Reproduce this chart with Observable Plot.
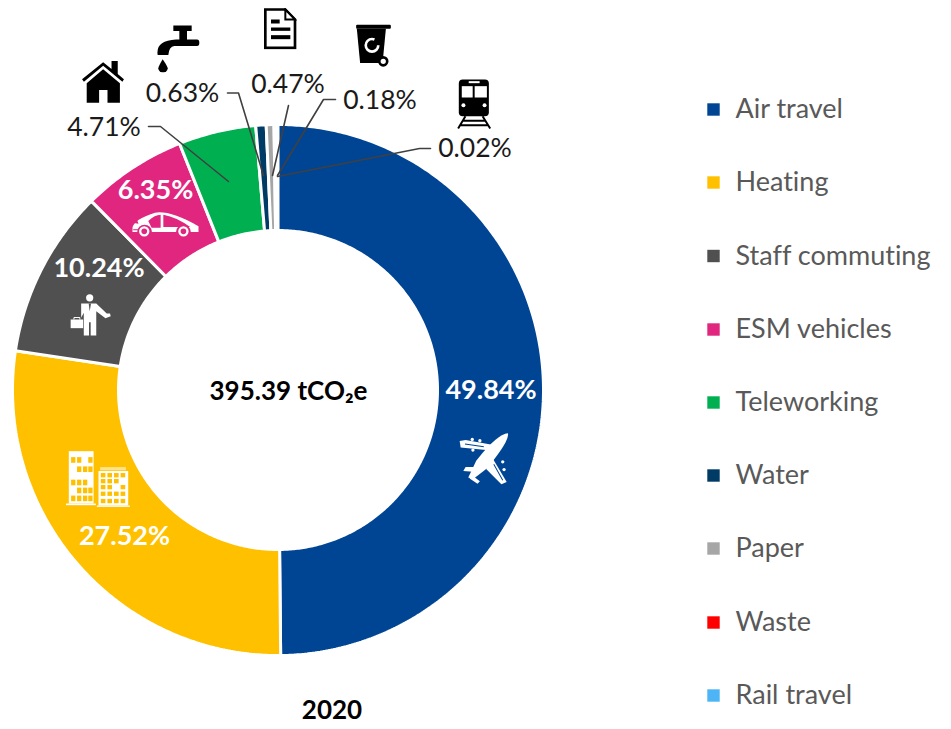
<!DOCTYPE html>
<html>
<head>
<meta charset="utf-8">
<style>html,body{margin:0;padding:0;background:#fff}svg{display:block}svg text{font-variant-ligatures:none}</style>
<script src="https://cdn.jsdelivr.net/npm/d3@7"></script>
<script src="https://cdn.jsdelivr.net/npm/@observablehq/plot@0.6"></script>
</head>
<body>
<script>
const categories = ["Air travel","Heating","Staff commuting","ESM vehicles","Teleworking","Water","Paper","Waste","Rail travel"];
const shares = [49.84,27.52,10.24,6.35,4.71,0.63,0.47,0.18,0.02];
const colors = ["#004494","#FFC000","#505050","#E0267F","#00B050","#003B66","#A6A6A6","#FF0000","#4DB5F5"];
const shareLabels = ["49.84%","27.52%","10.24%","6.35%","4.71%","0.63%","0.47%","0.18%","0.02%"];
const totalLabel = "395.39 tCO\u2082e";
const yearLabel = "2020";

const FONT = "Lato, 'Noto Sans', sans-serif";
const cx = 277.5, cy = 389.5, R = 265.5, r = 159.5;

// Ring outline of each slice, derived from the shares
const slices = [];
let cum = 0;
shares.forEach((v, i) => {
  const a0 = cum / 100 * 2 * Math.PI, a1 = (cum + v) / 100 * 2 * Math.PI;
  const n = Math.max(2, Math.ceil((a1 - a0) / 0.01));
  const pts = [];
  for (let k = 0; k <= n; k++) { const a = a0 + (a1 - a0) * k / n; pts.push([cx + R * Math.sin(a), cy - R * Math.cos(a)]); }
  for (let k = n; k >= 0; k--) { const a = a0 + (a1 - a0) * k / n; pts.push([cx + r * Math.sin(a), cy - r * Math.cos(a)]); }
  pts.push(pts[0]);
  pts.forEach(p => slices.push({name: categories[i], x: p[0], y: p[1]}));
  cum += v;
});

const insideLabels = [
  {t: shareLabels[0], x: 490.5, y: 390},
  {t: shareLabels[1], x: 124, y: 536},
  {t: shareLabels[2], x: 98.5, y: 268},
  {t: shareLabels[3], x: 155, y: 190}
];
const outsideLabels = [
  {t: shareLabels[4], x: 103.5, y: 127},
  {t: shareLabels[5], x: 182, y: 93},
  {t: shareLabels[6], x: 287.5, y: 84},
  {t: shareLabels[7], x: 379.5, y: 100},
  {t: shareLabels[8], x: 474.5, y: 148}
];
const leaders = [
  [[148,126],[160,126],[228,181]],
  [[227,92.5],[238,92.5],[263,175]],
  [[288,105],[272,175]],
  [[335,99],[323,99],[277,175]],
  [[430,148],[419,148],[277,176]]
].flatMap((l, i) => l.map(p => ({id: i, x: p[0], y: p[1]})));

const legendY = [109,182,255.5,329,402,475,548,622,695];
const legend = categories.map((name, i) => ({name, y: legendY[i]}));

// Icons
const uri = (vb, body) => "data:image/svg+xml;utf8," + encodeURIComponent(`<svg xmlns="http://www.w3.org/2000/svg" viewBox="${vb}" preserveAspectRatio="none">${body}</svg>`);
const grid = (xs, ys, w, h, skip = []) => ys.flatMap((y, j) => xs.map((x, i) => skip.includes(`${i},${j}`) ? "" : `<rect x="${x}" y="${y}" width="${w}" height="${h}" fill="#FFC000"/>`)).join("");
const icons = [
  {x:102.5,y:81.5,w:45,h:44,src:uri("55 180 145 132",`<path d="M60 238 L128 187 L155 207 V183 H175 V222 L195 238 L190 245 L128 197 L66 245Z"/><path d="M128 208 L182 250 V308 H142 V270 H115 V308 H75 V250Z"/>`)},
  {x:178,y:48,w:45,h:48,src:uri("285 70 135 145",`<path d="M337 73 H392 V90 H378 V115 H408 Q415 115 415 125 Q415 135 408 135 H340 Q324 137 322 162 H290 Q283 118 345 115 H355 V90 H337Z"/><path d="M305 175 Q292 197 292 202 a14 13 0 0 0 28 0 Q320 197 305 175Z"/>`)},
  {x:279.5,y:28,w:34,h:42,src:uri("608 22 102 126",`<path d="M615 28 H675 L704 58 V143 H615Z" fill="#fff" stroke="#000" stroke-width="8"/><path d="M675 28 V58 H704Z" fill="#fff" stroke="#000" stroke-width="6"/><rect x="632" y="58" width="26" height="12"/><rect x="632" y="82" width="58" height="10"/><rect x="632" y="105" width="58" height="12"/>`)},
  {x:372.5,y:45,w:37,h:45,src:uri("40 68 112 135",`<rect x="45" y="73" width="105" height="12" rx="3"/><path d="M47 85 H135 L125 188 H57Z"/><circle cx="93" cy="135" r="19" fill="none" stroke="#fff" stroke-width="8" stroke-dasharray="95 24"/><circle cx="127" cy="183" r="12" fill="#fff" stroke="#000" stroke-width="8"/>`)},
  {x:473.5,y:103,w:37,h:52,src:uri("342 232 112 156",`<rect x="352" y="238" width="91" height="110" rx="12"/><rect x="382" y="243" width="33" height="6" fill="#fff"/><rect x="361" y="258" width="33" height="34" fill="#fff"/><rect x="400" y="258" width="37" height="34" fill="#fff"/><circle cx="366" cy="315" r="6" fill="#fff"/><circle cx="430" cy="315" r="6" fill="#fff"/><path d="M372 348 L350 385 M424 348 L447 385 M362 362 H434 M355 375 H441" stroke="#000" stroke-width="6" fill="none"/>`)},
  {x:485,y:458,w:53,h:57,src:uri("90 180 160 170",`<g fill="#fff"><path d="M238 190 Q243 212 176 293 L132 327 L118 322 L142 272 Q205 192 238 190Z"/><path d="M172 240 L95 232 L92 213 L110 210 L190 224Z"/><path d="M190 262 L234 335 L218 342 L172 296Z"/><path d="M142 305 L103 302 L110 290 L150 290Z"/><path d="M130 316 L153 333 L146 340 L122 325Z"/><circle cx="130" cy="208" r="5"/><circle cx="153" cy="212" r="5"/><circle cx="132" cy="240" r="5"/><circle cx="222" cy="275" r="5"/><circle cx="226" cy="298" r="5"/><circle cx="208" cy="322" r="5"/></g><path d="M108 222 L165 230 M195 282 L222 330" stroke="#004494" stroke-width="3" fill="none"/>`)},
  {x:98,y:479,w:66,h:58,src:uri("45 60 200 175",`<rect x="55" y="62" width="75" height="158" fill="#fff"/><rect x="45" y="220" width="92" height="5" fill="#fff"/><rect x="145" y="122" width="90" height="104" fill="#fff"/><rect x="140" y="226" width="100" height="4" fill="#fff"/><rect x="150" y="110" width="78" height="10" fill="#FFE38A"/>${grid([62,80,98,114],[80,108,148,172,196],13,17,["0,1","3,2","0,3","2,0"])}${grid([152,172,192,212],[128,146,164,184,206],14,13,["3,1","2,2"])}`)},
  {x:90.5,y:315,w:42,h:44,src:uri("88 372 128 132",`<g fill="#fff"><circle cx="148" cy="385" r="11"/><path d="M122 402 H168 L200 432 L210 432 L212 440 L196 446 L168 425 V498 H151 V458 H146 V498 H130 V430 L122 445Z"/><rect x="90" y="450" width="38" height="26"/></g><path d="M100 450 V444 H118 V450" stroke="#fff" stroke-width="3" fill="none"/><path d="M145 402 L148 425 L152 402Z" fill="#505050"/>`)},
  {x:165,y:223.5,w:68,h:26,src:uri("275 122 203 78",`<path fill="#fff" d="M278 172 Q282 147 345 127 Q392 120 475 168 V185 H452 a22 22 0 0 0 -44 0 H336 a22 22 0 0 0 -44 0 H278Z"/><path fill="#E0267F" d="M325 152 Q345 133 362 133 V172 H335Z M370 133 Q410 140 450 170 H370Z M282 158 L292 150 L296 160Z M280 177 H295 V180 H280Z"/><g fill="#E0267F"><circle cx="313" cy="183" r="10"/><circle cx="430" cy="183" r="10"/></g><g fill="#fff"><circle cx="313" cy="183" r="12" fill="none" stroke="#fff" stroke-width="7"/><circle cx="430" cy="183" r="12" fill="none" stroke="#fff" stroke-width="7"/></g>`)}
];

const chart = Plot.plot({
  width: 951, height: 729, margin: 0,
  style: {background: "#fff", fontFamily: FONT},
  x: {domain: [0, 951], range: [0, 951], axis: null},
  y: {domain: [0, 729], range: [0, 729], axis: null},
  color: {domain: categories, range: colors},
  marks: [
    Plot.line(slices, {x: "x", y: "y", z: "name", fill: "name", stroke: "#fff", strokeWidth: 3, curve: "linear", strokeLinejoin: "miter", title: "name"}),
    Plot.line(leaders, {x: "x", y: "y", z: "id", stroke: "#404040", strokeWidth: 1.6, curve: "linear"}),
    Plot.image(icons, {x: "x", y: "y", width: "w", height: "h", src: "src", preserveAspectRatio: "none"}),
    Plot.text(insideLabels, {x: "x", y: "y", text: "t", fill: "#fff", fontSize: 27, fontWeight: 700, fontFamily: FONT}),
    Plot.text(outsideLabels, {x: "x", y: "y", text: "t", fill: "#1a1a1a", fontSize: 26.5, fontFamily: FONT}),
    Plot.text([totalLabel], {x: [288], y: [391], text: d => d, fill: "#000", fontSize: 26, fontWeight: 700, fontFamily: FONT}),
    Plot.text([yearLabel], {x: [331.5], y: [710], text: d => d, fill: "#000", fontSize: 26, fontWeight: 700, fontFamily: FONT}),
    Plot.dot(legend, {x: () => 713, y: "y", fill: "name", symbol: "square", r: 7}),
    Plot.text(legend, {x: () => 735, y: "y", text: "name", textAnchor: "start", fill: "#595959", fontSize: 27, fontFamily: FONT})
  ]
});
document.body.appendChild(chart);
</script>
</body>
</html>
